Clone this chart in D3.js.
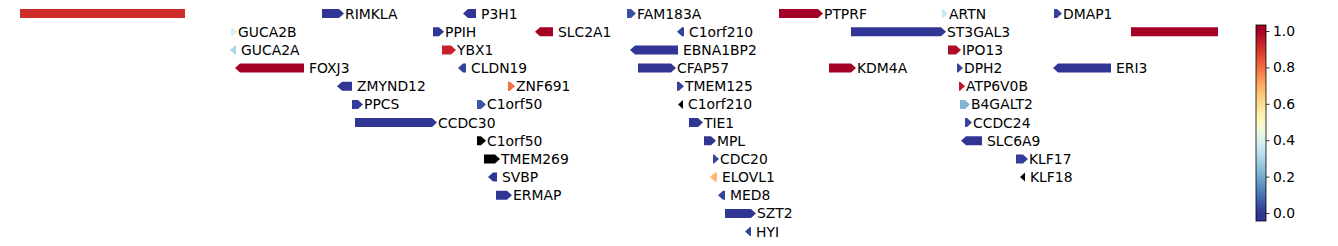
<!DOCTYPE html>
<html>
<head>
<meta charset="utf-8">
<script src="https://cdn.jsdelivr.net/npm/d3@7"></script>
<style>
  body { margin: 0; background: #fff; }
  text { font-family: "DejaVu Sans", sans-serif; }
</style>
</head>
<body>
<div id="chart"></div>
<script>
(function () {

    var width = 1338, height = 246

    // gene track data (position units along the locus, row = stacking level)
    var genes   = [null, 'RIMKLA', 'P3H1', 'FAM183A', 'PTPRF', 'ARTN', 'DMAP1',
                   'GUCA2B', 'PPIH', 'SLC2A1', 'C1orf210', 'ST3GAL3', null,
                   'GUCA2A', 'YBX1', 'EBNA1BP2', 'IPO13',
                   'FOXJ3', 'CLDN19', 'CFAP57', 'KDM4A', 'DPH2', 'ERI3',
                   'ZMYND12', 'ZNF691', 'TMEM125', 'ATP6V0B',
                   'PPCS', 'C1orf50', 'C1orf210', 'B4GALT2',
                   'CCDC30', 'TIE1', 'CCDC24',
                   'C1orf50', 'MPL', 'SLC6A9',
                   'TMEM269', 'CDC20', 'KLF17',
                   'SVBP', 'ELOVL1', 'KLF18',
                   'ERMAP', 'MED8',
                   'SZT2',
                   'HYI']
    var rows    = [0, 0, 0, 0, 0, 0, 0,
                   1, 1, 1, 1, 1, 1,
                   2, 2, 2, 2,
                   3, 3, 3, 3, 3, 3,
                   4, 4, 4, 4,
                   5, 5, 5, 5,
                   6, 6, 6,
                   7, 7, 7,
                   8, 8, 8,
                   9, 9, 9,
                   10, 10,
                   11,
                   12]
    var starts  = [0, 302, 443, 607, 759, 922, 1034,
                   211, 413, 515, 657, 831, 1111,
                   210, 422, 610, 928,
                   215, 438, 618, 809, 937, 1033,
                   317, 488, 657, 939,
                   332, 457, 658, 940,
                   335, 669, 945,
                   457, 684, 941,
                   464, 693, 996,
                   468, 690, 1000,
                   476, 698,
                   705,
                   725]
    var ends    = [165, 324, 456, 616, 803, 928, 1042,
                   217, 424, 533, 664, 926, 1198,
                   216, 436, 658, 941,
                   284, 446, 656, 836, 943, 1091,
                   332, 495, 664, 945,
                   343, 466, 663, 950,
                   417, 683, 952,
                   466, 696, 962,
                   480, 699, 1008,
                   477, 697, 1005,
                   492, 705,
                   736,
                   731]
    var strands = [0, 1, -1, 1, 1, 1, 1,
                   1, 1, -1, -1, 1, 0,
                   -1, 1, -1, 1,
                   -1, -1, 1, 1, 1, -1,
                   -1, 1, 1, 1,
                   1, 1, -1, 1,
                   1, 1, 1,
                   1, 1, -1,
                   1, 1, 1,
                   -1, -1, -1,
                   1, -1,
                   1,
                   -1]
    var scores  = [0.91, 0, 0, 0.04, 1, 0.36, 0.02,
                   0.4, 0, 1, 0.02, 0, 1,
                   0.3, 0.93, 0, 0.98,
                   1, 0.02, 0, 1, 0.02, 0,
                   0, 0.8, 0.02, 0.95,
                   0.01, 0.05, null, 0.22,
                   0, 0, 0.02,
                   null, 0, 0,
                   null, 0.02, 0.01,
                   0, 0.68, null,
                   0, 0.02,
                   0,
                   0.02]
    var cbarTicks = [0, 0.2, 0.4, 0.6, 0.8, 1.0]

    var data = genes.map(function (g, i) {
        return { name: g, row: rows[i], start: starts[i], end: ends[i],
                 strand: strands[i], score: scores[i] }
    })

    var svg = d3.select('#chart')
        .append('svg')
        .attr('width', width)
        .attr('height', height)

    var x = d3.scaleLinear().domain([0, 1230]).range([20, 1250])
    var y = d3.scalePoint().domain(d3.range(13)).range([13.6, 231.6])

    var cmap = function (t) { return d3.interpolateRdYlBu(1 - t) }
    var color = d3.scaleSequential(cmap).domain([0, 1]).clamp(true)

    var h = 9, headLen = 5

    function arrowPath(d) {
        var x0 = x(d.start), x1 = x(d.end), yc = y(d.row)
        var top = yc - h / 2, bot = yc + h / 2
        var w = x1 - x0
        var hl = Math.min(headLen, w)
        if (d.strand === 1) {
            return 'M' + x0 + ',' + top + 'L' + (x1 - hl) + ',' + top + 'L' + x1 + ',' + yc +
                'L' + (x1 - hl) + ',' + bot + 'L' + x0 + ',' + bot + 'Z'
        } else if (d.strand === -1) {
            return 'M' + x1 + ',' + top + 'L' + (x0 + hl) + ',' + top + 'L' + x0 + ',' + yc +
                'L' + (x0 + hl) + ',' + bot + 'L' + x1 + ',' + bot + 'Z'
        }
        return 'M' + x0 + ',' + top + 'L' + x1 + ',' + top + 'L' + x1 + ',' + bot + 'L' + x0 + ',' + bot + 'Z'
    }

    var g = svg.append('g')

    g.selectAll('.gene')
        .data(data)
        .enter().append('path')
        .attr('class', 'gene')
        .attr('d', arrowPath)
        .attr('fill', function (d) { return d.score === null ? '#000' : color(d.score) })

    g.selectAll('.label')
        .data(data.filter(function (d) { return d.name }))
        .enter().append('text')
        .attr('class', 'label')
        .attr('x', function (d) { return x(d.end) + (d.strand === -1 ? 5 : 1) })
        .attr('y', function (d) { return y(d.row) })
        .attr('dy', '0.36em')
        .attr('font-size', '13.9px')
        .attr('fill', '#000')
        .text(function (d) { return d.name })

    // colorbar
    var cbX = 1256, cbW = 10
    var cb = d3.scaleLinear().domain([-0.044, 1.033]).range([221, 25])

    var defs = svg.append('defs')
    var grad = defs.append('linearGradient')
        .attr('id', 'cbar')
        .attr('x1', 0).attr('y1', 1).attr('x2', 0).attr('y2', 0)
    d3.range(0, 1.001, 0.02).forEach(function (t) {
        var v = cb.domain()[0] + t * (cb.domain()[1] - cb.domain()[0])
        grad.append('stop').attr('offset', t).attr('stop-color', color(v))
    })

    svg.append('rect')
        .attr('x', cbX).attr('y', cb.range()[1])
        .attr('width', cbW).attr('height', cb.range()[0] - cb.range()[1])
        .attr('fill', 'url(#cbar)')
        .attr('stroke', '#000')
        .attr('stroke-width', 0.8)

    var axis = svg.append('g')
        .attr('transform', 'translate(' + (cbX + cbW) + ',0)')
        .call(d3.axisRight(cb).tickValues(cbarTicks).tickFormat(d3.format('.1f')).tickSize(3.5).tickPadding(3.5))
    axis.select('.domain').remove()
    axis.selectAll('line').attr('stroke', '#000').attr('stroke-width', 0.8)
    axis.selectAll('text')
        .attr('font-family', '"DejaVu Sans", sans-serif')
        .attr('font-size', '13.9px')
        .attr('fill', '#000')

})()
</script>
</body>
</html>
